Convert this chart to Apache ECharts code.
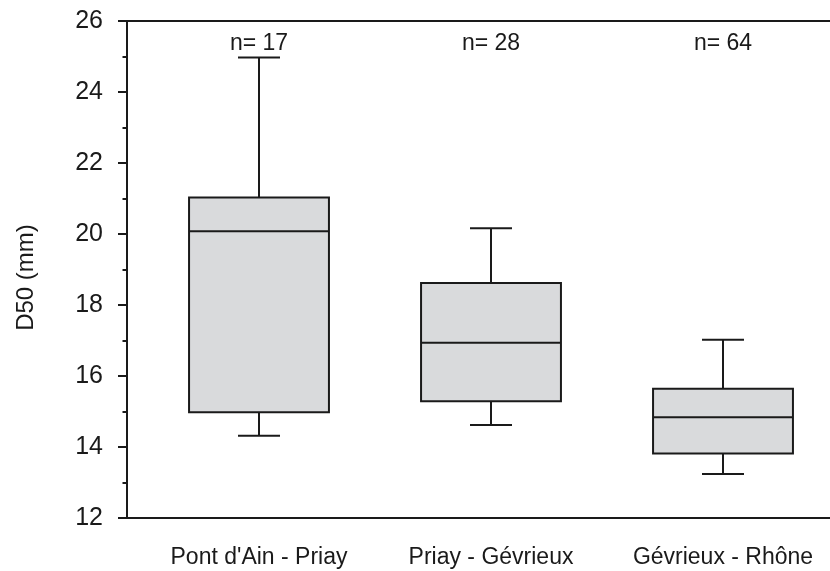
<!DOCTYPE html>
<html><head><meta charset="utf-8">
<script src="https://cdn.jsdelivr.net/npm/echarts@6/dist/echarts.min.js"></script>
<style>html,body{margin:0;padding:0;background:#fff}#c{width:830px;height:571px}</style>
</head><body><div id="c"></div>
<script>
// ---- data ----
const categories = ["Pont d'Ain - Priay", "Priay - Gévrieux", "Gévrieux - Rhône"];
const nLabels = ["n= 17", "n= 28", "n= 64"];
const whiskerLow = [14.32, 14.62, 13.24];
const q1 = [14.98, 15.29, 13.82];
const median = [20.08, 16.94, 14.84];
const q3 = [21.03, 18.62, 15.64];
const whiskerHigh = [24.97, 20.16, 17.02];
const yMin = 12, yMax = 26, yStep = 2;
const yName = 'D50 (mm)';

// ---- style ----
const INK = '#1a1a1a';
const FILL = '#d9dadc';
const FONT = '"Liberation Sans", Arial, Helvetica, sans-serif';
const BOX_RATIO = 0.603;
const CAP_RATIO = 0.181;

const boxData = categories.map((c, i) => [i, whiskerLow[i], q1[i], median[i], q3[i], whiskerHigh[i]]);

function renderItem(params, api) {
  const idx = api.value(0);
  const lo = api.coord([idx, api.value(1)]);
  const b1 = api.coord([idx, api.value(2)]);
  const md = api.coord([idx, api.value(3)]);
  const b3 = api.coord([idx, api.value(4)]);
  const hi = api.coord([idx, api.value(5)]);
  const band = api.size([1, 0])[0];
  const half = band * BOX_RATIO / 2;
  const cap = band * CAP_RATIO / 2;
  const x = Math.round(lo[0]);
  const ls = { stroke: INK, lineWidth: 2, fill: null };
  return {
    type: 'group',
    children: [
      { type: 'line', shape: { x1: x, y1: hi[1], x2: x, y2: b3[1] }, style: ls },
      { type: 'line', shape: { x1: x, y1: b1[1], x2: x, y2: lo[1] }, style: ls },
      { type: 'line', shape: { x1: x - cap, y1: hi[1], x2: x + cap, y2: hi[1] }, style: ls },
      { type: 'line', shape: { x1: x - cap, y1: lo[1], x2: x + cap, y2: lo[1] }, style: ls },
      { type: 'rect', shape: { x: x - half, y: b3[1], width: 2 * half, height: b1[1] - b3[1] },
        style: { fill: FILL, stroke: INK, lineWidth: 2 } },
      { type: 'line', shape: { x1: x - half, y1: md[1], x2: x + half, y2: md[1] }, style: ls }
    ]
  };
}

const chart = echarts.init(document.getElementById('c'), null, { renderer: 'canvas' });
const hiddenAxisBits = { axisTick: { show: false }, axisLabel: { show: false }, splitLine: { show: false } };
chart.setOption({
  animation: false,
  backgroundColor: '#fff',
  textStyle: { fontFamily: FONT, color: INK },
  grid: [
    { left: 127, width: 710, top: 21, bottom: 53, outerBoundsMode: 'none', containLabel: false },
    { left: 143, width: 696, top: 21, bottom: 53, outerBoundsMode: 'none', containLabel: false }
  ],
  xAxis: [
    Object.assign({ gridIndex: 0, type: 'value', min: 0, max: 1, position: 'bottom',
      axisLine: { show: true, onZero: false, lineStyle: { color: INK, width: 2 } } }, hiddenAxisBits),
    Object.assign({ gridIndex: 0, type: 'value', min: 0, max: 1, position: 'top',
      axisLine: { show: true, onZero: false, lineStyle: { color: INK, width: 2 } } }, hiddenAxisBits),
    { gridIndex: 1, type: 'category', data: categories, position: 'bottom',
      axisLine: { show: false, onZero: false }, axisTick: { show: false }, splitLine: { show: false },
      axisLabel: { margin: 28, fontSize: 23, color: INK, fontFamily: FONT, interval: 0 } },
    { gridIndex: 1, type: 'category', data: nLabels, position: 'top',
      axisLine: { show: false, onZero: false }, axisTick: { show: false }, splitLine: { show: false },
      axisLabel: { inside: true, margin: 11, fontSize: 23, color: INK, fontFamily: FONT, interval: 0 } }
  ],
  yAxis: [
    { gridIndex: 0, type: 'value', min: yMin, max: yMax, interval: yStep,
      name: yName, nameLocation: 'middle', nameGap: 89,
      nameTextStyle: { fontSize: 24, color: INK, fontFamily: FONT, padding: [0, 16, 0, 0] },
      axisLine: { show: true, onZero: false, lineStyle: { color: INK, width: 2 } },
      axisTick: { show: true, length: 9, lineStyle: { color: INK, width: 2 } },
      minorTick: { show: true, splitNumber: 2, length: 4.5, lineStyle: { color: INK, width: 2 } },
      axisLabel: { margin: 24, fontSize: 25, color: INK, fontFamily: FONT },
      splitLine: { show: false }, minorSplitLine: { show: false } },
    { gridIndex: 1, type: 'value', min: yMin, max: yMax, interval: yStep, show: false }
  ],
  series: [{
    type: 'custom',
    xAxisIndex: 2, yAxisIndex: 1,
    renderItem: renderItem,
    encode: { x: 0, y: [1, 2, 3, 4, 5] },
    data: boxData,
    clip: false
  }]
});
</script>
</body></html>
